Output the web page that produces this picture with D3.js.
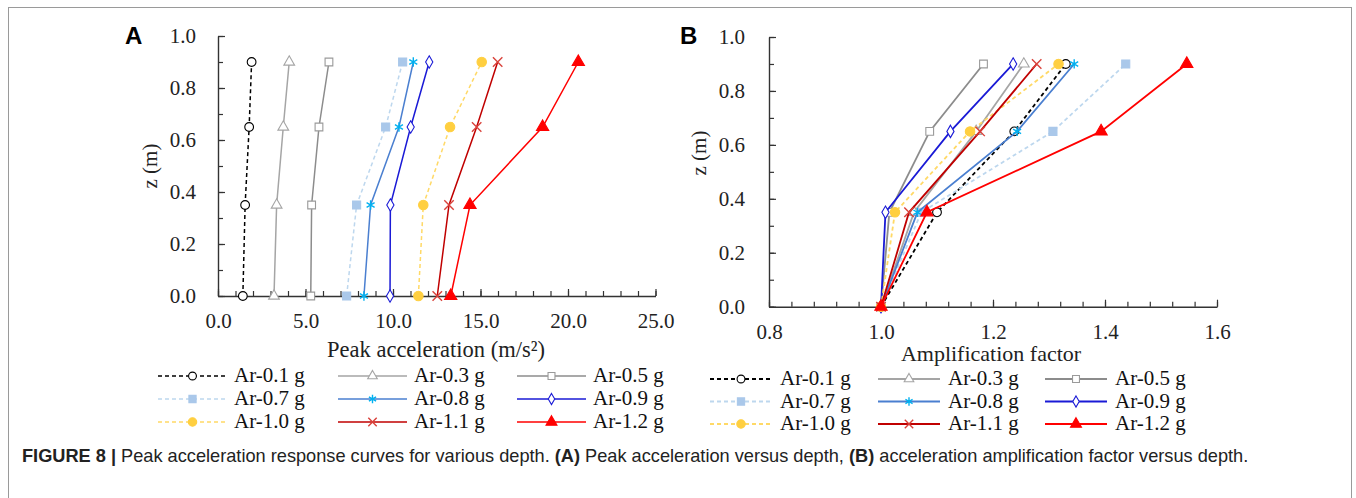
<!DOCTYPE html>
<html>
<head>
<meta charset="utf-8">
<script src="https://cdn.jsdelivr.net/npm/d3@7"></script>
<style>
  body { margin: 0; background: #fff; }
  svg { display: block; }
  .tick text { font-family: "Liberation Serif", "Times New Roman", serif; font-size: 21px; fill: #222; }
  .domain { stroke: #333; stroke-width: 1.4; }
  .tick line { stroke: #333; stroke-width: 1.2; }
</style>
</head>
<body>
<svg id="fig" width="1356" height="498"></svg>
<script>
// ----------------------------------
// 1) Data
// ----------------------------------
const depths = [0, 0.35, 0.65, 0.9];
const seriesNames = ["Ar-0.1 g", "Ar-0.3 g", "Ar-0.5 g",
                     "Ar-0.7 g", "Ar-0.8 g", "Ar-0.9 g",
                     "Ar-1.0 g", "Ar-1.1 g", "Ar-1.2 g"];

// peak acceleration (m/s²) at each depth, same order as seriesNames
const peakAcc = [
  [1.42, 1.55, 1.78, 1.92],
  [3.2, 3.35, 3.73, 4.07],
  [5.3, 5.35, 5.77, 6.34],
  [7.35, 7.92, 9.58, 10.55],
  [8.34, 8.72, 10.34, 11.16],
  [9.83, 9.85, 11.01, 12.07],
  [11.45, 11.73, 13.26, 15.07],
  [12.53, 13.2, 14.78, 15.98],
  [13.3, 14.4, 18.55, 20.59]
];

// amplification factor at each depth
const ampFactor = [
  [1.0, 1.10, 1.238, 1.33],
  [1.0, 1.059, 1.17, 1.255],
  [1.0, 1.015, 1.087, 1.183],
  [1.0, 1.072, 1.307, 1.437],
  [1.0, 1.065, 1.243, 1.345],
  [1.0, 1.008, 1.124, 1.236],
  [1.0, 1.025, 1.159, 1.317],
  [1.0, 1.05, 1.177, 1.278],
  [1.0, 1.082, 1.393, 1.546]
];

const peakTicks = [0, 5, 10, 15, 20, 25];
const ampTicks = [0.8, 1.0, 1.2, 1.4, 1.6];
const zTicks = [0, 0.2, 0.4, 0.6, 0.8, 1.0];

// ----------------------------------
// 2) Styles per series
// ----------------------------------
const lineColors = ["#000000", "#a5a5a5", "#8c8c8c", "#bdd7ee", "#4a7fd0",
                    "#1a1ad6", "#ffd966", "#c00000", "#ff0000"];
const markColors = ["#000000", "#a5a5a5", "#9a9a9a", "#aac8ea", "#00b0f0",
                    "#1a1ad6", "#ffcf40", "#d9413a", "#ff0000"];
const dashed = [true, false, false, true, false, false, true, false, false];
const shapes = [d3.symbolCircle, d3.symbolTriangle, d3.symbolSquare, d3.symbolSquare,
                d3.symbolAsterisk, d3.symbolDiamond, d3.symbolCircle, d3.symbolTimes, d3.symbolTriangle];
const filled = [false, false, false, true, false, false, true, false, true];
const strokeOnly = [false, false, false, false, true, false, false, true, false];
const sizes = [60, 50, 60, 65, 60, 45, 70, 60, 65];

const serif = "Liberation Serif, Times New Roman, serif";
const svg = d3.select("#fig");

// figure frame
svg.append("rect")
  .attr("x", 8.5).attr("y", 7.5)
  .attr("width", 1343).attr("height", 520)
  .attr("fill", "none").attr("stroke", "#9a9a9a").attr("stroke-width", 1);

function drawMarker(g, i, x, y, scale) {
  const s = d3.symbol().type(shapes[i]).size(sizes[i] * (scale || 1));
  g.append("path")
    .attr("transform", `translate(${x},${y})`)
    .attr("d", s())
    .attr("fill", strokeOnly[i] ? "none" : (filled[i] ? markColors[i] : "#fff"))
    .attr("stroke", markColors[i])
    .attr("stroke-width", strokeOnly[i] ? 1.4 : 1.1);
}

// ----------------------------------
// 3) One panel
// ----------------------------------
function drawPanel(opt) {
  const g = svg.append("g");
  const x = d3.scaleLinear().domain(opt.xDomain).range([opt.left, opt.right]);
  const y = d3.scaleLinear().domain([0, 1]).range([opt.bottom, opt.top]);

  // minor ticks
  g.append("g")
    .attr("transform", `translate(0,${opt.bottom})`)
    .call(d3.axisBottom(x).tickValues(opt.xMinor).tickSize(-5).tickSizeOuter(0).tickFormat(""))
    .call(a => a.select(".domain").remove());
  g.append("g")
    .attr("transform", `translate(${opt.left},0)`)
    .call(d3.axisLeft(y).tickValues(d3.range(0, 1.001, 0.1)).tickSize(-5).tickSizeOuter(0).tickFormat(""))
    .call(a => a.select(".domain").remove());

  // major axes
  g.append("g")
    .attr("transform", `translate(0,${opt.bottom})`)
    .call(d3.axisBottom(x).tickValues(opt.xTicks).tickSize(-7).tickSizeOuter(0)
      .tickPadding(17).tickFormat(d3.format(".1f")));
  g.append("g")
    .attr("transform", `translate(${opt.left},0)`)
    .call(d3.axisLeft(y).tickValues(zTicks).tickSize(-7).tickSizeOuter(0)
      .tickPadding(opt.yPad).tickFormat(d3.format(".1f")));

  // axis titles
  g.append("text")
    .attr("x", opt.xTitleX).attr("y", opt.xTitleY)
    .attr("text-anchor", "middle")
    .style("font-family", serif)
    .style("font-size", opt.xTitleSize + "px").attr("fill", "#222")
    .text(opt.xTitle);
  g.append("text")
    .attr("transform", `translate(${opt.zX},${opt.zY}) rotate(-90)`)
    .attr("text-anchor", "middle")
    .style("font-family", serif)
    .style("font-size", "21px").attr("fill", "#222")
    .text("z (m)");

  // panel letter
  g.append("text")
    .attr("x", opt.letterX).attr("y", 44)
    .style("font-family", "Liberation Sans, Arial, sans-serif")
    .style("font-size", "24px").style("font-weight", "bold")
    .text(opt.letter);

  // series
  const line = d3.line().x(d => x(d[0])).y(d => y(d[1]));
  opt.values.forEach((vals, i) => {
    const pts = vals.map((v, k) => [v, depths[k]]);
    g.append("path")
      .attr("d", line(pts))
      .attr("fill", "none")
      .attr("stroke", lineColors[i])
      .attr("stroke-width", opt.lw)
      .attr("stroke-dasharray", dashed[i] ? "4,3" : null);
    pts.forEach(p => drawMarker(g, i, x(p[0]), y(p[1])));
  });

  // legend 3 x 3
  const lg = g.append("g");
  seriesNames.forEach((name, i) => {
    const col = i % 3, row = Math.floor(i / 3);
    const tx = opt.legTextX[col];
    const ly = opt.legRows[row];
    const x0 = tx - opt.legGap - opt.legLen, x1 = tx - opt.legGap;
    lg.append("line")
      .attr("x1", x0).attr("x2", x1).attr("y1", ly).attr("y2", ly)
      .attr("stroke", lineColors[i]).attr("stroke-width", opt.lw)
      .attr("stroke-dasharray", dashed[i] ? "4,3" : null);
    drawMarker(lg, i, (x0 + x1) / 2, ly, 0.8);
    lg.append("text")
      .attr("x", tx).attr("y", ly + 6)
      .style("font-family", serif)
      .style("font-size", "21px").attr("fill", "#111")
      .text(name);
  });
}

drawPanel({
  letter: "A", letterX: 125,
  xDomain: [0, 25], left: 218, right: 655.5, top: 36, bottom: 296,
  xTicks: peakTicks, xMinor: d3.range(0, 25.01, 1), yPad: 22,
  xTitle: "Peak acceleration (m/s²)", xTitleX: 436, xTitleY: 357, xTitleSize: 22.5,
  zX: 157, zY: 166,
  values: peakAcc, lw: 1.5,
  legTextX: [234, 414, 593], legRows: [376, 399, 422], legLen: 69, legGap: 7
});

drawPanel({
  letter: "B", letterX: 680,
  xDomain: [0.8, 1.6], left: 769, right: 1217, top: 37, bottom: 306.7,
  xTicks: ampTicks, xMinor: d3.range(0.8, 1.601, 0.04), yPad: 24,
  xTitle: "Amplification factor", xTitleX: 991, xTitleY: 361, xTitleSize: 22,
  zX: 706, zY: 153,
  values: ampFactor, lw: 1.8,
  legTextX: [780, 948, 1115], legRows: [379, 401.5, 424], legLen: 62, legGap: 8
});

// caption
const cap = svg.append("text")
  .attr("x", 22).attr("y", 462)
  .style("font-family", "Liberation Sans, Arial, sans-serif")
  .style("font-size", "18.2px").attr("fill", "#222");
cap.append("tspan").style("font-weight", "bold").text("FIGURE 8 | ");
cap.append("tspan").text("Peak acceleration response curves for various depth. ");
cap.append("tspan").style("font-weight", "bold").text("(A)");
cap.append("tspan").text(" Peak acceleration versus depth, ");
cap.append("tspan").style("font-weight", "bold").text("(B)");
cap.append("tspan").text(" acceleration amplification factor versus depth.");
</script>
</body>
</html>
